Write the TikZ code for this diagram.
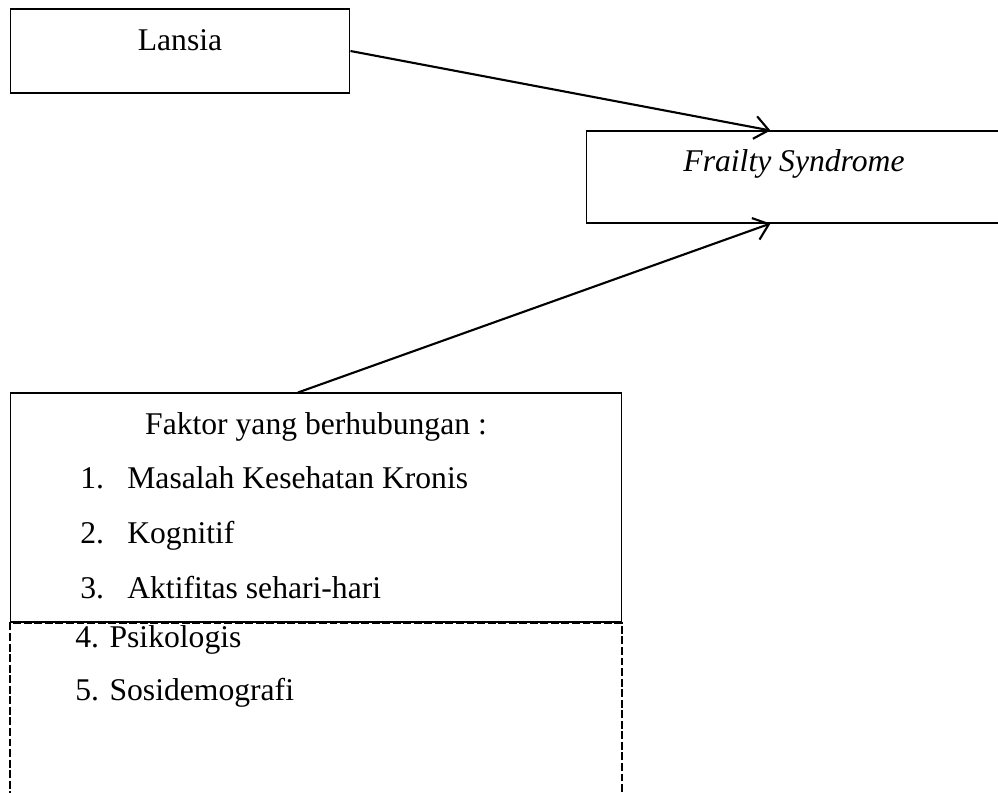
\documentclass[tikz,border=0pt]{standalone}
\usepackage{fontspec}
\setmainfont{Liberation Serif}
\usepackage{tikz}
\usetikzlibrary{arrows.meta,positioning}

\tikzset{
  box/.style={draw, line width=0.6pt, inner sep=0pt, anchor=base},
  item/.style={inner sep=0pt, anchor=base west},
  link/.style={line width=1.2pt, -{Straight Barb[length=8pt,width=13pt,line width=1.2pt]}}
}

\begin{document}
\begin{tikzpicture}[x=0.02cm, y=-0.02cm, font=\fontsize{18}{21}\selectfont]
  \useasboundingbox (0,0) rectangle (998,792);

  % draw the boxes
  \node[box, minimum width=6.8cm, text height=0.82cm, text depth=0.86cm] (lansia) at (180,50) {Lansia};
  \node[box, minimum width=8.32cm, text height=0.8cm, text depth=1.04cm] (frailty) at (794,171) {\textit{Frailty Syndrome}};
  \node[box, minimum width=12.24cm, text height=0.82cm, text depth=3.76cm] (faktor) at (316,434) {Faktor yang berhubungan :};
  \node[box, anchor=north, minimum width=12.24cm, minimum height=4cm, line width=1.3pt, dash pattern=on 4.5pt off 1.5pt] (lain) at (316,622) {};

  % the factors
  \foreach \n/\t in {1/Masalah Kesehatan Kronis, 2/Kognitif, 3/Aktifitas sehari-hari} {
    \node[item] (num\n) at (80,433+55*\n) {\n.};
    \node[item] (fak\n) at (127,433+55*\n) {\t};
  }
  \foreach \n/\t/\y in {4/Psikologis/647, 5/Sosidemografi/700} \node[item] (lain\n) at (75,\y) {\n. \t};

  % draw the arrows
  \draw[link] (lansia.east) -- ([xshift=3.7cm]frailty.north west);
  \draw[link] ([xshift=-0.36cm]faktor.north) -- ([xshift=3.7cm]frailty.south west);
\end{tikzpicture}
\end{document}
